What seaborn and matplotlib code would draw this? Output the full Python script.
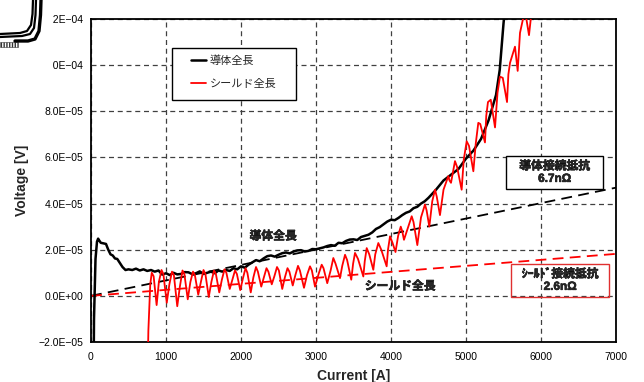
import numpy as np
import pandas as pd
import matplotlib
matplotlib.use("Agg")
import matplotlib.pyplot as plt
import matplotlib.patheffects as pe
from matplotlib.patches import Rectangle
from matplotlib.ticker import FixedLocator
import seaborn as sns

# ---- measured data -------------------------------------------------------
# conductor full length (current in A, voltage in 1e-5 V)
cond_current = [25, 40, 60, 80, 95, 110, 130, 160, 200, 230, 260, 290, 320, 350,
                380, 420, 460, 500, 550, 600, 650, 700, 750, 800, 850, 900, 950,
                1000, 1050, 1100, 1150, 1200, 1250, 1300, 1350, 1400, 1450, 1500,
                1550, 1600, 1650, 1700, 1750, 1800, 1850, 1900, 1950, 2000, 2050,
                2100, 2150, 2200, 2250, 2300, 2350, 2400, 2450, 2500, 2550, 2600,
                2650, 2700, 2750, 2800, 2850, 2900, 2950, 3000, 3050, 3100, 3150,
                3200, 3250, 3300, 3350, 3400, 3450, 3500, 3550, 3600, 3650, 3700,
                3750, 3800, 3850, 3900, 3950, 4000, 4050, 4100, 4150, 4200, 4250,
                4300, 4350, 4400, 4450, 4500, 4600, 4700, 4800, 4900, 5000, 5100,
                5200, 5300, 5400, 5450, 5500, 5550]
cond_voltage = [-8.0, -1.0, 1.6, 2.35, 2.48, 2.4, 2.3, 2.28, 2.25, 2.0, 1.8, 1.75,
                1.62, 1.6, 1.45, 1.25, 1.12, 1.15, 1.12, 1.18, 1.1, 1.15, 1.08,
                1.12, 1.05, 1.1, 0.92, 0.98, 0.9, 1.0, 0.93, 0.95, 1.03, 1.02,
                0.94, 0.98, 1.06, 0.95, 1.0, 1.05, 0.98, 1.1, 1.05, 1.12, 1.08,
                1.2, 1.15, 1.28, 1.22, 1.35, 1.45, 1.55, 1.5, 1.62, 1.72, 1.75,
                1.7, 1.78, 1.85, 1.88, 1.84, 1.92, 1.97, 1.98, 1.92, 1.95, 2.03,
                2.02, 2.06, 2.1, 2.16, 2.2, 2.17, 2.3, 2.28, 2.38, 2.44, 2.45,
                2.42, 2.55, 2.6, 2.65, 2.75, 2.9, 2.98, 3.1, 3.22, 3.3, 3.28,
                3.38, 3.5, 3.6, 3.66, 3.8, 3.86, 4.0, 4.1, 4.25, 4.6, 5.0, 5.25,
                5.5, 5.95, 6.3, 6.8, 7.6, 8.7, 9.8, 11.8, 13.5]

# shield full length (current in A, voltage in 1e-5 V)
shield_current = [740, 765, 790,
                  810, 835, 875, 905, 940, 965, 1010, 1045, 1080, 1105, 1150, 1185,
                  1220, 1245, 1290, 1325, 1360, 1385, 1430, 1465, 1500, 1525, 1570,
                  1605, 1640, 1665, 1710, 1745, 1780, 1805, 1850, 1885, 1920, 1945,
                  1990, 2025, 2060, 2085, 2130, 2165, 2200, 2225, 2270, 2305, 2340,
                  2365, 2410, 2445, 2480, 2505, 2550, 2585, 2620, 2645, 2690, 2725,
                  2760, 2785, 2840, 2880, 2920, 2945, 2987, 3035, 3076, 3100, 3150,
                  3195, 3231, 3260, 3320, 3350, 3387, 3415, 3470, 3495, 3520, 3560,
                  3631, 3650, 3676, 3710, 3764, 3790, 3831, 3870, 3942, 3960, 3987,
                  4020, 4060, 4095, 4130, 4150, 4173, 4230, 4276, 4300, 4351, 4400,
                  4453, 4475, 4511, 4550, 4587, 4610, 4653, 4700, 4764, 4780, 4800,
                  4853, 4880, 4942, 4970, 5009, 5040, 5098, 5130, 5164, 5190, 5253,
                  5270, 5293, 5330, 5387, 5420, 5453, 5490, 5547, 5565, 5587, 5653,
                  5689, 5720, 5760, 5800, 5840, 5867, 5900]
shield_voltage = [-6.0, -1.5, 0.5,
                  1.0, 0.85, -0.4, 0.6, 1.12, 0.95, -0.3, 0.5, 1.05, 0.9, -0.45, 0.4,
                  1.1, 0.95, -0.15, 0.6, 1.05, 0.9, 0.05, 0.6, 1.12, 0.95, -0.05,
                  0.6, 1.1, 0.95, 0.15, 0.7, 1.15, 1.0, 0.3, 0.7, 1.1, 0.95,
                  0.25, 0.75, 1.2, 1.0, 0.15, 0.8, 1.25, 1.05, 0.4, 0.8, 1.2,
                  1.05, 0.5, 0.85, 1.25, 1.1, 0.3, 0.8, 1.2, 1.05, 0.45, 0.9,
                  1.3, 1.1, 0.35, 0.9, 1.28, 1.1, 0.4, 0.95, 1.35, 1.2, 0.55,
                  1.1, 1.64, 1.4, 0.77, 1.3, 1.78, 1.55, 0.7, 1.4, 1.86, 1.6,
                  0.84, 1.5, 2.07, 1.8, 1.13, 1.8, 2.29, 2.0, 1.28, 2.0, 2.58,
                  2.3, 1.9, 2.6, 3.0, 2.8, 2.43, 3.0, 3.45, 3.2, 2.2, 3.4,
                  3.96, 3.7, 3.0, 4.1, 4.6, 4.3, 3.5, 4.6, 5.19, 5.0, 4.9,
                  5.84, 5.6, 4.6, 5.9, 6.7, 6.5, 5.4, 6.6, 7.5, 7.45, 6.65,
                  7.8, 8.4, 8.5, 7.3, 8.8, 9.5, 9.45, 8.4, 9.6, 10.1, 10.8,
                  9.75, 11.4, 12.0, 12.1, 11.3, 12.1, 13.0]

# contact resistances (ohm) used for the straight reference lines
cond_resistance = 6.7e-9
shield_resistance = 2.6e-9
fit_current = [0, 7000]

series_names = ["導体全長", "シールド全長"]
series_colors = ["black", "red"]

x_ticks = [0, 1000, 2000, 3000, 4000, 5000, 6000, 7000]
y_ticks = [-2e-5, 0.0, 2e-5, 4e-5, 6e-5, 8e-5, 1.0e-4, 1.2e-4]
y_tick_labels = ["−2.0E−05", "0.0E+00", "2.0E−05", "4.0E−05", "6.0E−05",
                 "8.0E−05", "1.0E−04", "1.2E−04"]

# ---- frames --------------------------------------------------------------
cond_df = pd.DataFrame({"Current": cond_current,
                        "Voltage": np.array(cond_voltage) * 1e-5})
shield_df = pd.DataFrame({"Current": shield_current,
                          "Voltage": np.array(shield_voltage) * 1e-5})
fit_df = pd.DataFrame({
    "Current": fit_current * 2,
    "Voltage": [cond_resistance * i for i in fit_current]
               + [shield_resistance * i for i in fit_current],
    "fit": ["cond"] * 2 + ["shield"] * 2,
})

# ---- style ---------------------------------------------------------------
sns.set_style("white")
plt.rcParams["font.family"] = ["Liberation Sans", "Noto Sans CJK JP", "DejaVu Sans"]

W, H = 644, 382
fig = plt.figure(figsize=(W / 100, H / 100), dpi=100)
ax = fig.add_axes([91 / W, 1 - 342 / H, 525 / W, 323 / H])


def bold(color="black", w=0.4):
    return [pe.withStroke(linewidth=w, foreground=color)]


# reference lines from the contact resistances
for key, col in (("cond", "black"), ("shield", "red")):
    sns.lineplot(data=fit_df[fit_df["fit"] == key], x="Current", y="Voltage",
                 ax=ax, color=col, lw=1.3, estimator=None, legend=False,
                 zorder=2)
    ax.lines[-1].set_dashes([6, 3.5])

# measured curves
sns.lineplot(data=cond_df, x="Current", y="Voltage", ax=ax, color="black",
             lw=1.8, estimator=None, sort=False, label=series_names[0], zorder=3)
sns.lineplot(data=shield_df, x="Current", y="Voltage", ax=ax, color="red",
             lw=1.3, estimator=None, sort=False, label=series_names[1], zorder=4)

ax.set_xlim(0, 7000)
ax.set_ylim(-2e-5, 1.2e-4)
ax.xaxis.set_major_locator(FixedLocator(x_ticks))
ax.yaxis.set_major_locator(FixedLocator(y_ticks))
ax.set_xticklabels([str(t) for t in x_ticks])
ax.set_yticklabels(y_tick_labels)
ax.tick_params(axis="x", length=0, pad=7, labelsize=7.5, colors="black")
ax.tick_params(axis="y", length=0, pad=5.5, labelsize=7.5, colors="black")

ax.grid(True, color="#404040", lw=0.9, linestyle=(0, (4, 3)))
ax.set_axisbelow(True)
for sp in ax.spines.values():
    sp.set_color("black")
    sp.set_linewidth(1.3)

ax.set_xlabel("Current [A]", fontsize=10, fontweight="bold", labelpad=5)
ax.set_ylabel("Voltage [V]", fontsize=10, fontweight="bold")
ax.yaxis.set_label_coords(-0.118, 0.5)

# legend: frame drawn as a rectangle, entries placed inside it
def px_to_axes(x, y):
    return (x - 91) / 525, (342 - y) / 323


x0, y0 = px_to_axes(172, 100)
x1, y1 = px_to_axes(296, 48)
ax.add_patch(Rectangle((x0, y0), x1 - x0, y1 - y0, transform=ax.transAxes,
                       facecolor="white", edgecolor="black", lw=1.0, zorder=7))
lx, ly = px_to_axes(191, 55)
leg = ax.legend(loc="upper left", bbox_to_anchor=(lx, ly), borderaxespad=0,
                fontsize=8, frameon=False, borderpad=0, labelspacing=1.2,
                handlelength=1.35, handletextpad=0.35)
leg.set_zorder(8)

# curve labels
ax.text(2427, 2.57e-5, "導体全長", fontsize=8.5, fontweight="bold",
        ha="center", va="center", zorder=6, path_effects=bold())
ax.text(4120, 0.40e-5, "シールド全長", fontsize=8.5, fontweight="bold",
        ha="center", va="center", zorder=6, path_effects=bold())

# resistance boxes
ax.add_patch(Rectangle((5533, 4.65e-5), 6827 - 5533, 6.06e-5 - 4.65e-5,
                       facecolor="white", edgecolor="black", lw=1.0, zorder=5))
ax.text(6180, 5.34e-5, "導体接続抵抗\n6.7nΩ", fontsize=8.5, fontweight="bold",
        ha="center", va="center", linespacing=1.05, zorder=6,
        path_effects=bold())
ax.add_patch(Rectangle((5596, -0.06e-5), 6911 - 5596, 1.39e-5 + 0.06e-5,
                       facecolor="none", edgecolor="#e03030", lw=1.0, zorder=5))
ax.text(6253, 0.66e-5, "ｼｰﾙﾄﾞ接続抵抗\n2.6nΩ", fontsize=8.5, fontweight="bold",
        ha="center", va="center", linespacing=1.05, zorder=6,
        path_effects=bold())

# small cable sketch in the upper left corner
inset = fig.add_axes([0, 1 - 78 / H, 53 / W, 78 / H], zorder=10)
inset.set_xlim(0, 53)
inset.set_ylim(78, 0)
inset.axis("off")
inset.add_patch(Rectangle((0, 0), 53, 78, facecolor="white", edgecolor="none"))
cable_paths = [
    ([33, 32.5, 31, 27, 20, 0], [0, 14, 25, 31, 33, 34], 1.6),
    ([36, 35.5, 34, 30, 22, 0], [0, 15, 28, 34, 36, 37], 1.6),
    ([41, 40.5, 39, 35, 28, 15], [0, 15, 31, 39, 41, 41], 2.4),
]
for xs, ys, w in cable_paths:
    inset.plot(xs, ys, color="black", lw=w, solid_capstyle="round")
inset.add_patch(Rectangle((0, 41.5), 18, 5.5, facecolor="white",
                          edgecolor="#333333", lw=0.4, hatch="||||||"))

fig.savefig("out.png", dpi=100)
